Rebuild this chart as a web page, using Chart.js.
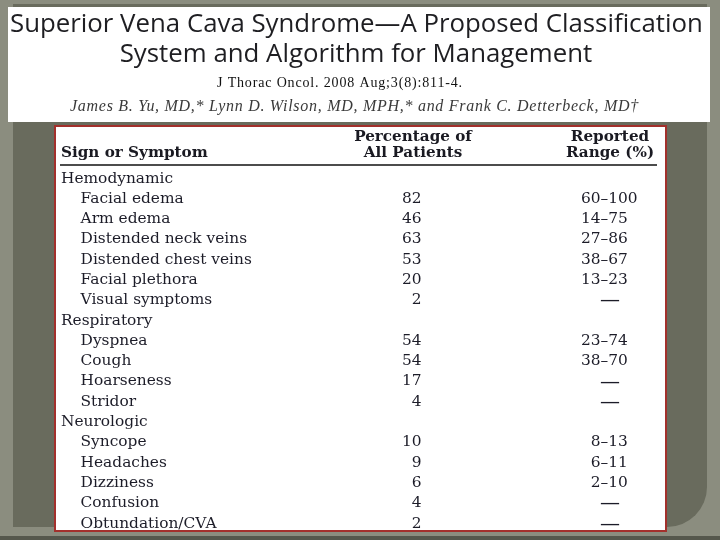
<!DOCTYPE html>
<html><head><meta charset="utf-8">
<script src="https://cdn.jsdelivr.net/npm/chart.js@4.4.1/dist/chart.umd.min.js"></script>
<style>html,body{margin:0;padding:0;background:#8b8d7f;} #wrap{width:720px;height:540px;}</style>
</head><body><div id="wrap"><canvas id="c" width="720" height="540"></canvas></div>
<script>
const titleLines = ['Superior Vena Cava Syndrome\u2014A Proposed Classification', 'System and Algorithm for Management'];
const citation = 'J Thorac Oncol. 2008 Aug;3(8):811-4.';
const authors = 'James B. Yu, MD,* Lynn D. Wilson, MD, MPH,* and Frank C. Detterbeck, MD\u2020';
const signHeader = ['Sign or Symptom'];
const percentHeader = ['Percentage of', 'All Patients'];
const rangeHeader = ['Reported', 'Range (%)'];
const signs = ['Hemodynamic', 'Facial edema', 'Arm edema', 'Distended neck veins', 'Distended chest veins',
  'Facial plethora', 'Visual symptoms', 'Respiratory', 'Dyspnea', 'Cough', 'Hoarseness', 'Stridor',
  'Neurologic', 'Syncope', 'Headaches', 'Dizziness', 'Confusion', 'Obtundation/CVA'];
const rowLevel = [0, 1, 1, 1, 1, 1, 1, 0, 1, 1, 1, 1, 0, 1, 1, 1, 1, 1];
const percentage = [null, 82, 46, 63, 53, 20, 2, null, 54, 54, 17, 4, null, 10, 9, 6, 4, 2];
const rangeLow = [null, 60, 14, 27, 38, 13, null, null, 23, 38, null, null, null, 8, 6, 2, null, null];
const rangeHigh = [null, 100, 75, 86, 67, 23, null, null, 74, 70, null, null, null, 13, 11, 10, null, null];

function fitSize(ctx, text, fontTail, target) {
  ctx.font = '100px ' + fontTail;
  return 100 * target / ctx.measureText(text).width;
}
function spacedText(ctx, text, x, y, target) {
  ctx.letterSpacing = '0px';
  const w = ctx.measureText(text).width;
  const sp = (target - w) / Math.max(1, text.length - 1);
  ctx.letterSpacing = sp.toFixed(2) + 'px';
  ctx.fillText(text, x, y);
  ctx.letterSpacing = '0px';
}

const slidePlugin = {
  id: 'slide',
  beforeDraw(chart) {
    const ctx = chart.ctx;
    ctx.save();
    ctx.fillStyle = '#8b8d7f'; ctx.fillRect(0, 0, 720, 540);
    ctx.fillStyle = '#55574c'; ctx.fillRect(0, 536, 720, 4);
    ctx.fillStyle = '#696b5d';
    ctx.beginPath(); ctx.roundRect(13, 4, 694, 523, [0, 0, 40, 0]); ctx.fill();
    // header
    ctx.fillStyle = '#ffffff'; ctx.fillRect(8, 7, 702, 115);
    ctx.fillStyle = '#1e1e22';
    ctx.textBaseline = 'alphabetic';
    const ts = fitSize(ctx, titleLines[0], '"Open Sans", sans-serif', 693);
    ctx.font = ts.toFixed(2) + 'px "Open Sans", sans-serif';
    ctx.textAlign = 'left';
    ctx.fillText(titleLines[0], 10, 32);
    ctx.textAlign = 'center';
    ctx.fillText(titleLines[1], 356, 62);
    ctx.textAlign = 'left';
    ctx.fillStyle = '#111111';
    ctx.font = '14px "Liberation Serif", serif';
    spacedText(ctx, citation, 217, 87, 245);
    ctx.fillStyle = '#3a3a3a';
    ctx.font = 'italic 16px "Liberation Serif", serif';
    spacedText(ctx, authors, 70, 111, 568);
    // table box
    ctx.fillStyle = '#ffffff'; ctx.fillRect(55, 126, 611, 405);
    ctx.strokeStyle = '#a3302c'; ctx.lineWidth = 2;
    ctx.strokeRect(55, 126, 611, 405);
    // column headers
    ctx.fillStyle = '#1a1a22';
    ctx.font = 'bold 15.2px "DejaVu Serif", serif';
    ctx.textAlign = 'left';
    ctx.fillText(signHeader[0], 61, 157);
    ctx.textAlign = 'center';
    ctx.fillText(percentHeader[0], 413, 141);
    ctx.fillText(percentHeader[1], 413, 157);
    ctx.fillText(rangeHeader[0], 610, 141);
    ctx.fillText(rangeHeader[1], 610, 157);
    ctx.strokeStyle = '#111111'; ctx.lineWidth = 1.5;
    ctx.beginPath(); ctx.moveTo(60, 165); ctx.lineTo(657, 165); ctx.stroke();
    ctx.restore();
  },
  afterDraw(chart) {
    const ctx = chart.ctx;
    const y = chart.scales.y;
    const pct = chart.data.datasets[0].data;
    ctx.save();
    ctx.fillStyle = '#1c1c28';
    ctx.font = '15.4px "DejaVu Serif", serif';
    ctx.textBaseline = 'middle';
    const dw = ctx.measureText('0').width;
    for (let i = 0; i < signs.length; i++) {
      const py = y.getPixelForValue(i);
      if (pct[i] !== null) {
        ctx.textAlign = 'right';
        ctx.fillText(String(pct[i]), 421.5, py);
      }
      if (rangeLow[i] !== null) {
        ctx.textAlign = 'left';
        const off = String(rangeLow[i]).length < 2 ? dw : 0;
        ctx.fillText(rangeLow[i] + '\u2013' + rangeHigh[i], 581 + off, py);
      } else if (rowLevel[i] === 1) {
        ctx.save();
        ctx.font = '20px "DejaVu Serif", serif';
        ctx.textAlign = 'center';
        ctx.fillText('\u2014', 610, py + 1);
        ctx.restore();
      }
    }
    ctx.restore();
  }
};

new Chart(document.getElementById('c').getContext('2d'), {
  type: 'bar',
  data: {
    labels: signs,
    datasets: [{ label: 'Percentage of All Patients', data: percentage, backgroundColor: 'rgba(0,0,0,0)', borderWidth: 0 }]
  },
  options: {
    responsive: false,
    animation: false,
    indexAxis: 'y',
    layout: { padding: { left: 61, top: 178.5, bottom: 16.5, right: 60 } },
    plugins: { legend: { display: false }, tooltip: { enabled: false }, title: { display: false } },
    scales: {
      x: { display: false, min: 0, max: 100 },
      y: {
        offset: false,
        grid: { display: false },
        border: { display: false },
        ticks: {
          autoSkip: false, crossAlign: 'far', padding: 0, color: '#1c1c28',
          font: { family: 'DejaVu Serif', size: 15.4 },
          callback(v, i) { return (rowLevel[i] ? '    ' : '') + signs[i]; }
        }
      }
    }
  },
  plugins: [slidePlugin]
});
</script>
</body></html>
